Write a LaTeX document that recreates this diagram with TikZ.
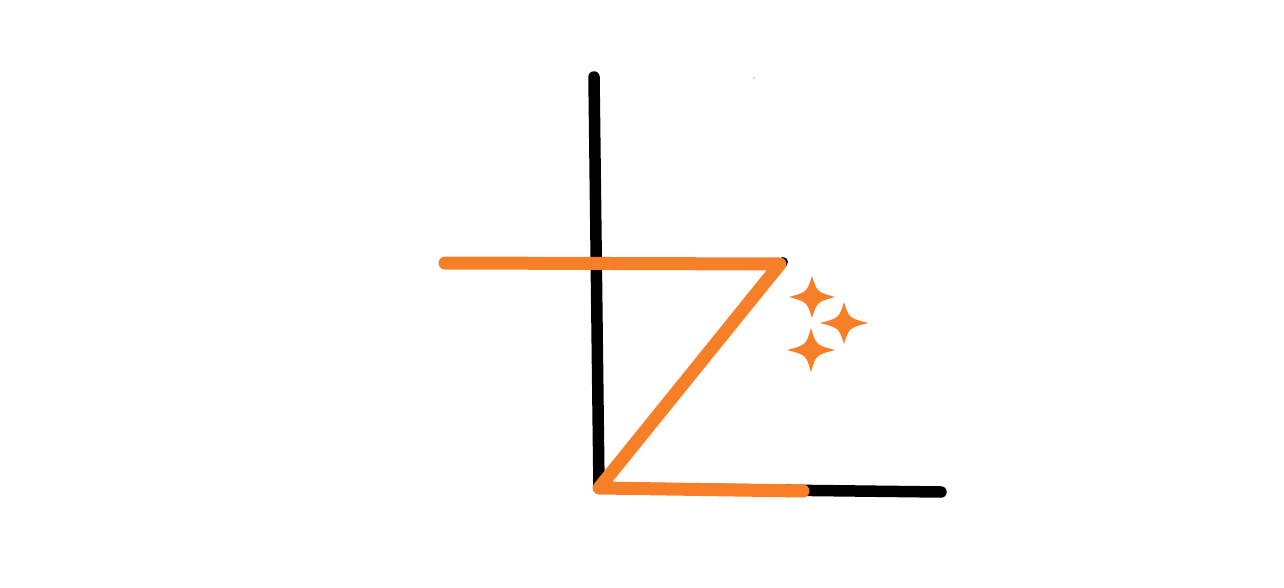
\documentclass[tikz,border=0pt]{standalone}
\definecolor{zorange}{RGB}{247,127,40}
\tikzset{
  axis/.style={line width=11.5pt,line cap=round,black},
  zline/.style={line width=13pt,line cap=round,zorange},
  sparkle/.style={fill=zorange,draw=none}
}
\begin{document}
\begin{tikzpicture}[x=1pt,y=-1pt,line join=round]
			\useasboundingbox (0,0) rectangle (1284,588);
			\coordinate (top) at (594,77);
			\coordinate (corner) at (599,488);
			\coordinate (right) at (941,492);
			\coordinate (left) at (445,263);
			\coordinate (peak) at (780,264);
			\coordinate (peakb) at (783,262);
			\coordinate (low) at (803,491);
			\draw[axis] (top)--(corner)--(right);
			\draw[axis,line width=10pt] (peakb)--(corner);
			\draw[zline] (left)--(peak)--(corner)--(low);
			\foreach \x/\y/\w/\h in {812/297/23/21,844/323/24/21,811/350/24/22}
			\fill[sparkle] (\x+\w,\y) .. controls (\x+5,\y-5) .. (\x,\y-\h) .. controls (\x-5,\y-5) .. (\x-\w,\y)
				.. controls (\x-5,\y+5) .. (\x,\y+\h) .. controls (\x+5,\y+5) .. cycle;
			\fill[gray!70] (754,78) circle (.8);
		\end{tikzpicture}
\end{document}
